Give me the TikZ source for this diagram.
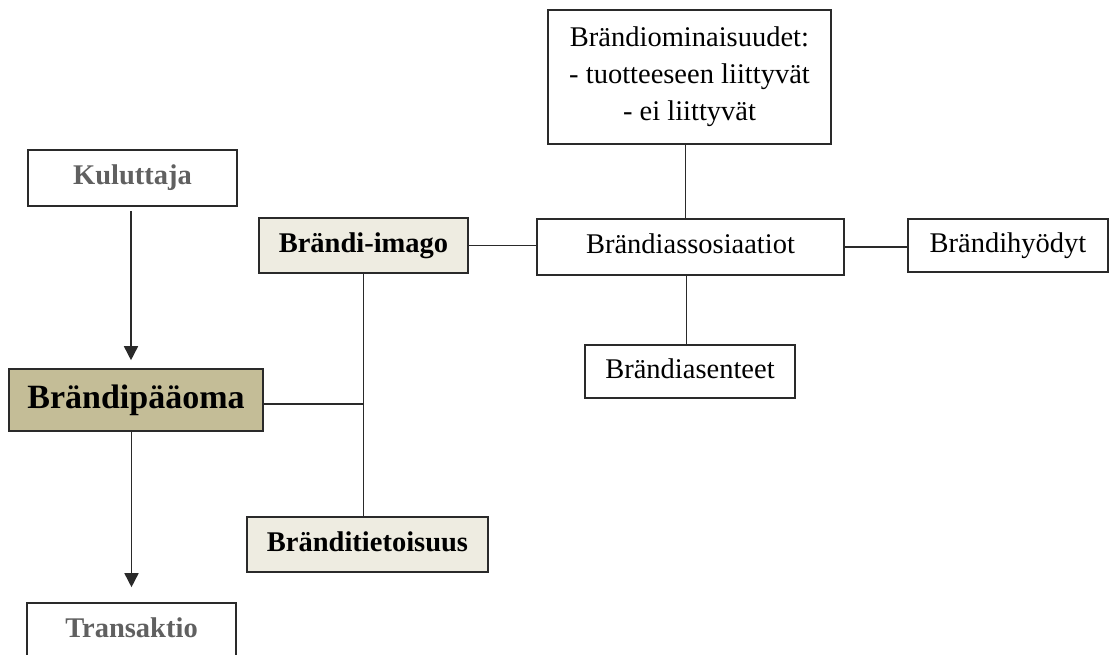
\documentclass[tikz,border=0pt]{standalone}
\usepackage{fontspec}
\setmainfont{Liberation Serif}
\usetikzlibrary{arrows.meta}
\definecolor{tanfill}{HTML}{C4BD97}
\definecolor{lightfill}{HTML}{EEECE1}
\definecolor{graytext}{HTML}{606060}
\definecolor{edge}{HTML}{2A2A2A}
\begin{document}
\begin{tikzpicture}[x=1pt,y=-1pt,
  box/.style={draw=edge,line width=1.6pt,inner sep=0pt,align=center,
    font=\fontsize{28.5pt}{37pt}\selectfont,text height=19pt,text depth=6pt},
  conn/.style={draw=edge,line width=1.6pt},
  arr/.style={conn,-{Triangle[width=14pt,length=14pt]}}]
\useasboundingbox (0,0) rectangle (1110,655);
\node[box,minimum width=283pt,minimum height=134pt,text height=,text depth=] (top) at (689.5,77)
  {Brändiominaisuudet:\\- tuotteeseen liittyvät\\- ei liittyvät};
\node[box,minimum width=209pt,minimum height=56pt,text=graytext,font=\fontsize{28.5pt}{34pt}\selectfont\bfseries] (kul) at (132.5,178) {Kuluttaja};
\node[box,fill=lightfill,minimum width=209pt,minimum height=55pt,font=\fontsize{28.5pt}{34pt}\selectfont\bfseries] (imago) at (363.5,245.5) {Brändi-imago};
\node[box,minimum width=307pt,minimum height=56pt] (assoc) at (690.5,247) {Brändiassosiaatiot};
\node[box,minimum width=200pt,minimum height=53pt] (hyod) at (1008,245.5) {Brändihyödyt};
\node[box,minimum width=210pt,minimum height=53pt] (asen) at (690,371.5) {Brändiasenteet};
\node[box,fill=tanfill,minimum width=254pt,minimum height=62pt,font=\fontsize{34pt}{40pt}\selectfont\bfseries,text height=23pt,text depth=7pt] (pa) at (136,400) {Brändipääoma};
\node[box,fill=lightfill,minimum width=241pt,minimum height=55pt,font=\fontsize{28.5pt}{34pt}\selectfont\bfseries] (ti) at (367.5,544.5) {Bränditietoisuus};
\node[box,minimum width=209pt,minimum height=56pt,text=graytext,font=\fontsize{28.5pt}{34pt}\selectfont\bfseries] (tr) at (131.5,631) {Transaktio};
% connectors
\draw[arr,shorten <=4pt,shorten >=8pt] ([xshift=-1.5pt]kul.south) -- ([xshift=-1.5pt]kul.south |- pa.north);
\draw[arr,shorten >=15pt] (tr.north |- pa.south) -- (tr.north);
\draw[conn] ([yshift=-4pt]pa.east) -- ([yshift=-4pt]pa.east -| imago.south);
\draw[conn] (imago.south) -- (imago.south |- ti.north);
\draw[conn] (imago.east) -- (imago.east -| assoc.west);
\draw[conn] (assoc.east) -- (assoc.east -| hyod.west);
\draw[conn] ([xshift=-4pt]top.south) -- ([xshift=-4pt]top.south |- assoc.north);
\draw[conn] ([xshift=-4pt]assoc.south) -- ([xshift=-4pt]assoc.south |- asen.north);
\end{tikzpicture}
\end{document}
